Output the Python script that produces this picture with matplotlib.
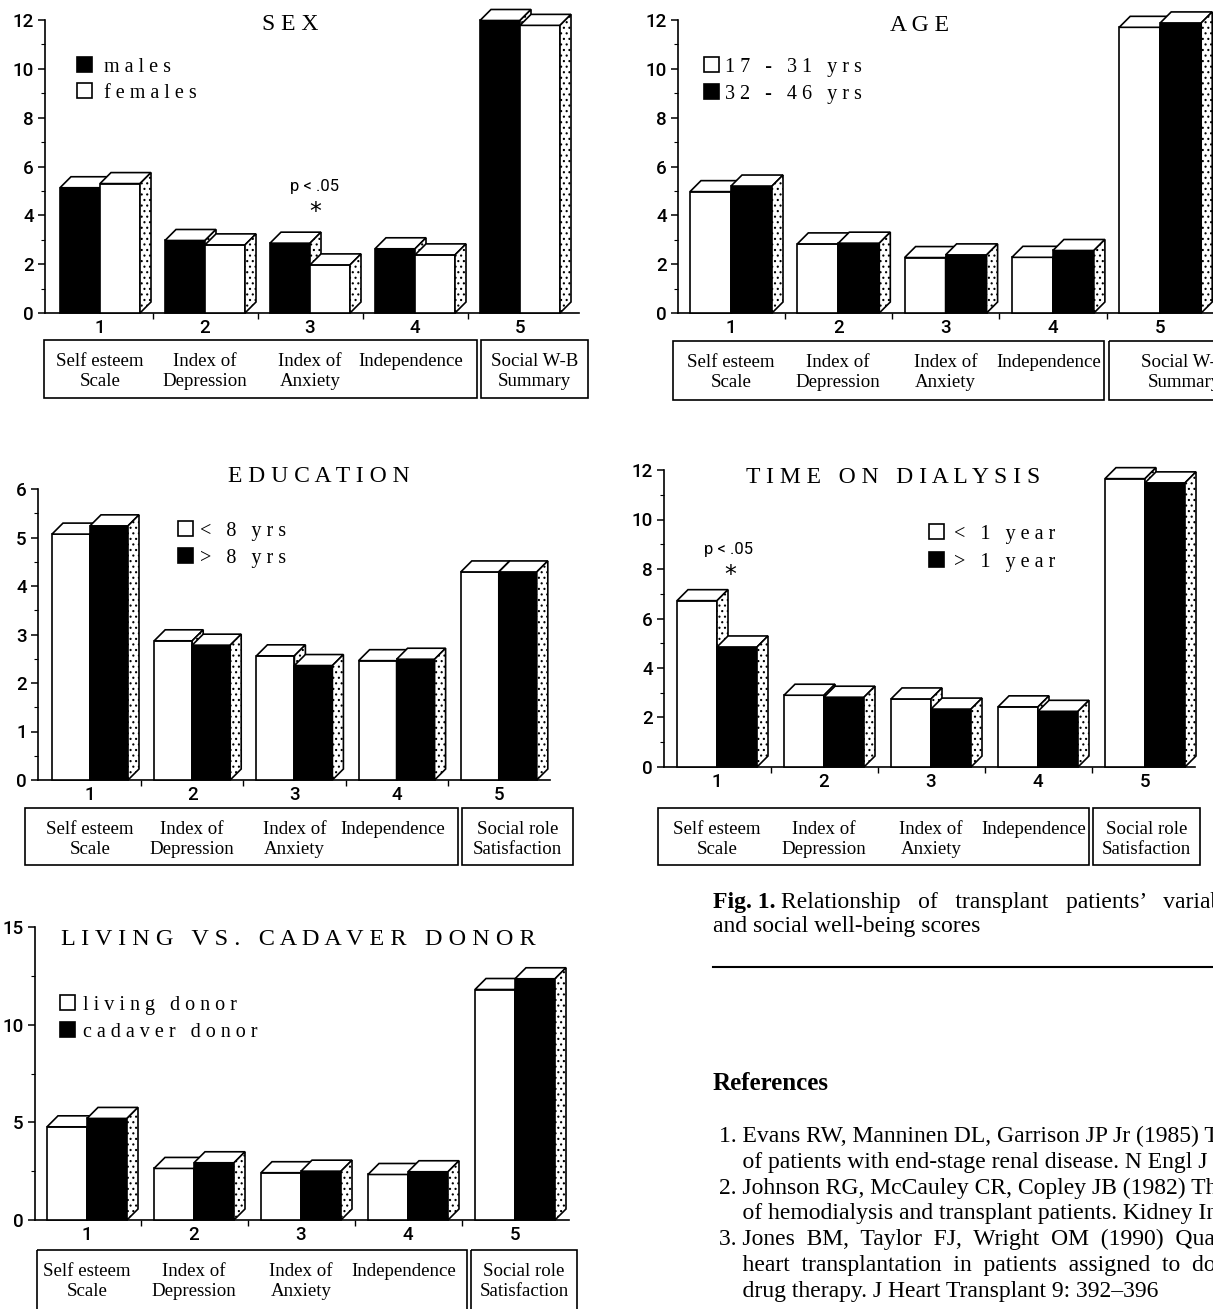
import matplotlib
matplotlib.use("Agg")
import matplotlib.pyplot as plt
import numpy as np
from matplotlib.patches import Polygon, Rectangle
from matplotlib.transforms import blended_transform_factory

plt.rcParams['hatch.linewidth'] = 0.8

W, H = 1213, 1309
SERIF = 'Liberation Serif'
SANS = ['Roboto', 'DejaVu Sans']
LW = 1.2
DEPTH = 11  # px, 3d offset of bar tops / sides

# ---- data ----
groups = [1, 2, 3, 4, 5]
scale_labels = ["Self esteem\nScale", "Index of\nDepression", "Index of\nAnxiety", "Independence"]

sex_names = ["males", "females"]
sex_males = [5.13, 2.97, 2.86, 2.63, 11.98]
sex_females = [5.30, 2.79, 1.97, 2.38, 11.78]

age_names = ["17 - 31 yrs", "32 - 46 yrs"]
age_young = [4.97, 2.83, 2.27, 2.28, 11.70]
age_old = [5.20, 2.86, 2.38, 2.56, 11.88]

edu_names = ["< 8 yrs", "> 8 yrs"]
edu_low = [5.07, 2.87, 2.56, 2.46, 4.29]
edu_high = [5.24, 2.78, 2.36, 2.49, 4.29]

dial_names = ["< 1 year", "> 1 year"]
dial_short = [6.72, 2.90, 2.75, 2.43, 11.65]
dial_long = [4.85, 2.82, 2.34, 2.25, 11.48]

donor_names = ["living donor", "cadaver donor"]
donor_living = [4.77, 2.64, 2.42, 2.33, 11.80]
donor_cadaver = [5.20, 2.93, 2.50, 2.47, 12.35]

references = [
    "1. Evans RW, Manninen DL, Garrison JP Jr (1985) The quality of life",
    "    of patients with end-stage renal disease. N Engl J Med 312: 553\u2013559",
    "2. Johnson RG, McCauley CR, Copley JB (1982) The quality of life",
    "    of hemodialysis and transplant patients. Kidney Int 22: 286\u2013291",
    "3. Jones  BM,  Taylor  FJ,  Wright  OM  (1990)  Quality  of  life  after",
    "    heart  transplantation  in  patients  assigned  to  double-  or  triple-",
    "    drug therapy. J Heart Transplant 9: 392\u2013396",
]


def spaced(s):
    return " ".join(s)


fig = plt.figure(figsize=(W / 100, H / 100), dpi=100)
fig.patch.set_facecolor('white')

# full-figure pixel overlay for frames and captions
ov = fig.add_axes([0, 0, 1, 1])
ov.set_xlim(0, W)
ov.set_ylim(H, 0)
ov.axis('off')


def panel(extent, c1, unit, bar_px, ymax, major, minor, title, title_xy, title_size,
          vals, colors, names, legend_xy, text_dx, boxes, last_label, sig=None):
    left, right, top, base = extent
    ax = fig.add_axes([left / W, 1 - base / H, (right - left) / W, (base - top) / H])
    ax.patch.set_visible(False)
    ax.set_xlim(1 - (c1 - left) / unit, 1 + (right - c1) / unit)
    ax.set_ylim(0, ymax)
    w = bar_px / unit
    dx = DEPTH / unit
    dy = DEPTH * ymax / (base - top)

    for k, (v, col) in enumerate(zip(vals, colors)):
        x0 = [g - w + k * w for g in groups]
        ax.bar(x0, v, width=w, align='edge', color=col, edgecolor='black',
               linewidth=LW, zorder=3 + k, clip_on=False)
        for xb, h in zip(x0, v):
            ax.add_patch(Polygon([(xb, h), (xb + dx, h + dy), (xb + w + dx, h + dy), (xb + w, h)],
                                 closed=True, facecolor='white', edgecolor='black',
                                 linewidth=LW, zorder=3 + k, clip_on=False))
            ax.add_patch(Polygon([(xb + w, 0), (xb + w + dx, dy), (xb + w + dx, h + dy), (xb + w, h)],
                                 closed=True, facecolor='white', edgecolor='black', hatch='...',
                                 linewidth=LW, zorder=3 + k, clip_on=False))

    for s in ('top', 'right'):
        ax.spines[s].set_visible(False)
    for s in ('left', 'bottom'):
        ax.spines[s].set_linewidth(LW)
    ax.set_yticks(np.arange(0, ymax + 0.01, major))
    ax.set_yticks(np.arange(0, ymax + 0.01, minor), minor=True)
    ax.set_yticklabels([str(int(t)) for t in np.arange(0, ymax + 0.01, major)])
    ax.set_xticks(groups)
    ax.set_xticklabels([str(g) for g in groups])
    ax.set_xticks([g + 0.5 for g in groups[:-1]], minor=True)
    ax.tick_params(axis='x', which='major', length=0, pad=4, labelsize=13.5)
    ax.tick_params(axis='x', which='minor', length=4, width=1)
    ax.tick_params(axis='y', which='major', length=5, width=1.1, labelsize=13.5, pad=3)
    ax.tick_params(axis='y', which='minor', length=3, width=0.8)
    for lab in ax.get_xticklabels() + ax.get_yticklabels():
        lab.set_family(SANS)
        lab.set_weight('medium')

    # title
    ov.text(title_xy[0], title_xy[1], spaced(title), ha='center', va='baseline',
            family=SERIF, fontsize=title_size)

    # legend
    for j, (col, name) in enumerate(zip(colors, names)):
        sx, sy = legend_xy[j]
        ov.add_patch(Rectangle((sx, sy - 15), 15, 15, facecolor=col, edgecolor='black', lw=LW))
        ov.text(sx + text_dx, sy, spaced(name), ha='left', va='baseline',
                family=SERIF, fontsize=14.5)

    # label boxes under the axis
    bx0, bx1, bx2, bx3, by0, by1 = boxes
    ov.add_patch(Rectangle((bx0, by0), bx1 - bx0, by1 - by0, fill=False, lw=LW, edgecolor='black'))
    ov.add_patch(Rectangle((bx2, by0), bx3 - bx2, by1 - by0, fill=False, lw=LW, edgecolor='black'))
    tr = blended_transform_factory(ax.transData, ov.transData)
    for g, lab in zip(groups[:4], scale_labels):
        gx = g - 0.04 if g == 4 else g
        for j, line in enumerate(lab.split("\n")):
            ax.text(gx, by0 + 26 + 20 * j, line, transform=tr, ha='center', va='baseline',
                    family=SERIF, fontsize=13.6)
    for j, line in enumerate(last_label.split("\n")):
        ov.text((bx2 + bx3) / 2, by0 + 26 + 20 * j, line, ha='center', va='baseline',
                family=SERIF, fontsize=13.6)

    if sig is not None:
        gx, ytxt, yast = sig
        ax.text(gx, ytxt, "p < .05", ha='center', va='baseline', family=SANS, fontsize=12)
        ax.text(gx + 0.01, yast, "*", ha='center', va='center', family='DejaVu Sans', fontsize=17)
    return ax


panel((45, 579, 20, 313), 100, 105, 40, 12, 2, 1, "SEX", (290, 30), 17,
      [sex_males, sex_females], ['black', 'white'], sex_names,
      [(77, 72), (77, 98)], 27, (44, 477, 481, 588, 340, 398),
      "Social W-B\nSummary", sig=(3.04, 5.0, 4.15))

panel((678, 1240, 20, 313), 731, 107.3, 41, 12, 2, 1, "AGE", (920, 31), 17,
      [age_young, age_old], ['white', 'black'], age_names,
      [(704, 72), (704, 99)], 21, (673, 1104, 1109, 1260, 341, 400),
      "Social W-B\nSummary")

panel((38, 550, 489, 780), 90, 102.2, 38, 6, 1, 0.5, "EDUCATION", (319, 482), 17,
      [edu_low, edu_high], ['white', 'black'], edu_names,
      [(178, 536), (178, 563)], 22, (25, 458, 462, 573, 808, 865),
      "Social role\nSatisfaction")

panel((664, 1195, 470, 767), 717, 107, 40, 12, 2, 1, "TIME ON DIALYSIS", (893, 483), 17,
      [dial_short, dial_long], ['white', 'black'], dial_names,
      [(929, 539), (929, 567)], 25, (658, 1089, 1093, 1200, 808, 865),
      "Social role\nSatisfaction", sig=(1.11, 8.6, 7.75))

panel((35, 569, 927, 1220), 87, 107, 40, 15, 5, 2.5, "LIVING VS. CADAVER DONOR", (298, 945), 17.5,
      [donor_living, donor_cadaver], ['white', 'black'], donor_names,
      [(60, 1010), (60, 1037)], 23, (37, 467, 471, 577, 1250, 1330),
      "Social role\nSatisfaction")

# caption, rule and references
ov.text(713, 908, "Fig. 1.", ha='left', va='baseline', family=SERIF, fontsize=17, weight='bold')
ov.text(781, 908, "Relationship   of   transplant   patients\u2019   variables   and   psychological",
        ha='left', va='baseline', family=SERIF, fontsize=17)
ov.text(713, 932, "and social well-being scores", ha='left', va='baseline', family=SERIF, fontsize=17)
ov.plot([713, 1213], [967, 967], color='black', lw=1.5)
ov.text(713, 1090, "References", ha='left', va='baseline', family=SERIF, fontsize=18, weight='bold')
for j, line in enumerate(references):
    ov.text(719, 1142 + 25.8 * j, line, ha='left', va='baseline', family=SERIF, fontsize=17)

fig.savefig("out.png", dpi=100, facecolor='white')
